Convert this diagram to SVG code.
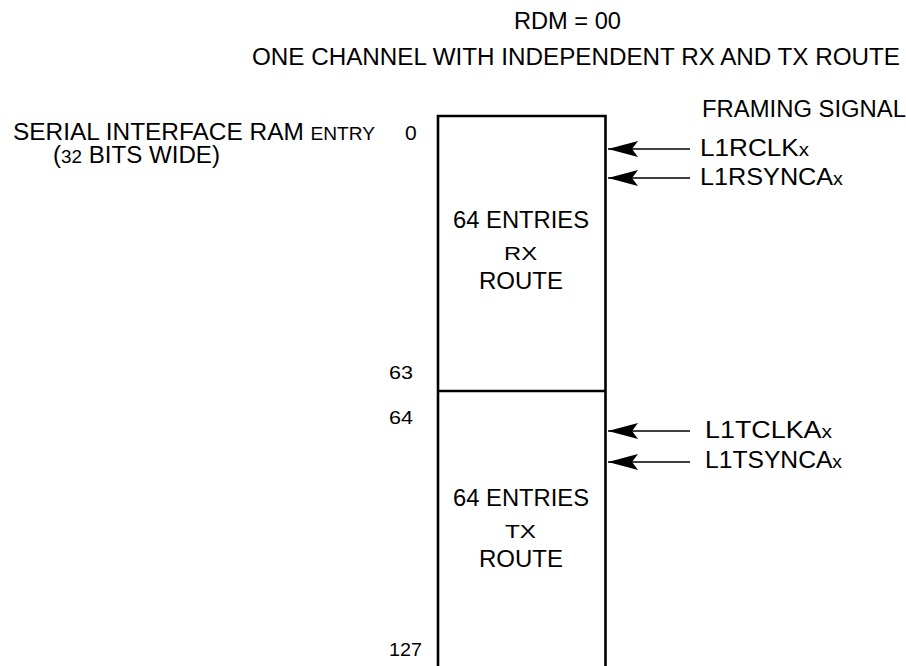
<svg xmlns="http://www.w3.org/2000/svg" width="906" height="666" viewBox="0 0 906 666">
<style>
text{font-family:"Liberation Sans",Arial,sans-serif;fill:#000;font-size:23px}
.s{font-size:18px}
.n{font-size:19px}
.box{fill:none;stroke:#000;stroke-width:2.6}
.ln{stroke:#000;stroke-width:1.3;fill:none}
</style>
<defs>
<marker id="ah" markerUnits="userSpaceOnUse" markerWidth="32" markerHeight="18" refX="31" refY="9" orient="auto" viewBox="0 0 32 18">
<path d="M31,9 L1,1 L7,9 L1,17 Z" fill="#000"/>
</marker>
</defs>
<text x="514" y="29" textLength="107" lengthAdjust="spacingAndGlyphs">RDM = 00</text>
<text x="252" y="65" textLength="648" lengthAdjust="spacingAndGlyphs">ONE CHANNEL WITH INDEPENDENT RX AND TX ROUTE</text>
<text x="702" y="117" textLength="204" lengthAdjust="spacingAndGlyphs">FRAMING SIGNAL</text>
<text x="13" y="140" textLength="362" lengthAdjust="spacingAndGlyphs">SERIAL INTERFACE RAM <tspan class="s">ENTRY</tspan></text>
<text x="53" y="163" textLength="167" lengthAdjust="spacingAndGlyphs">(<tspan class="s">32</tspan> BITS WIDE)</text>
<g id="rx">
<path class="box" d="M438,666 V116 H605.5 V666"/>
<text x="405" y="140" style="font-size:21px">0</text>
<text x="453" y="228" textLength="136" lengthAdjust="spacingAndGlyphs">64 ENTRIES</text>
<text x="504" y="260" class="n" textLength="33" lengthAdjust="spacingAndGlyphs">RX</text>
<text x="479" y="289" textLength="84" lengthAdjust="spacingAndGlyphs">ROUTE</text>
<text x="389" y="379" class="n" textLength="24" lengthAdjust="spacingAndGlyphs">63</text>
</g>
<g id="tx">
<line class="box" x1="438" y1="391" x2="605.5" y2="391"/>
<text x="389" y="424" class="n" textLength="24" lengthAdjust="spacingAndGlyphs">64</text>
<text x="453" y="506" textLength="136" lengthAdjust="spacingAndGlyphs">64 ENTRIES</text>
<text x="505" y="538" class="n" textLength="31" lengthAdjust="spacingAndGlyphs">TX</text>
<text x="479" y="567" textLength="84" lengthAdjust="spacingAndGlyphs">ROUTE</text>
<text x="389" y="656" class="n" textLength="33" lengthAdjust="spacingAndGlyphs">127</text>
</g>
<g id="connectors">
<line class="ln" x1="690" y1="149" x2="608" y2="149" marker-end="url(#ah)"/>
<line class="ln" x1="690" y1="178" x2="608" y2="178" marker-end="url(#ah)"/>
<line class="ln" x1="690" y1="431" x2="608" y2="431" marker-end="url(#ah)"/>
<line class="ln" x1="690" y1="462" x2="608" y2="462" marker-end="url(#ah)"/>
</g>
<text x="700" y="156" textLength="109" lengthAdjust="spacingAndGlyphs">L1RCLK<tspan class="s">x</tspan></text>
<text x="700" y="185" textLength="143" lengthAdjust="spacingAndGlyphs">L1RSYNCA<tspan class="s">x</tspan></text>
<text x="705" y="438" textLength="127" lengthAdjust="spacingAndGlyphs">L1TCLKA<tspan class="s">x</tspan></text>
<text x="705" y="468" textLength="137" lengthAdjust="spacingAndGlyphs">L1TSYNCA<tspan class="s">x</tspan></text>
</svg>
